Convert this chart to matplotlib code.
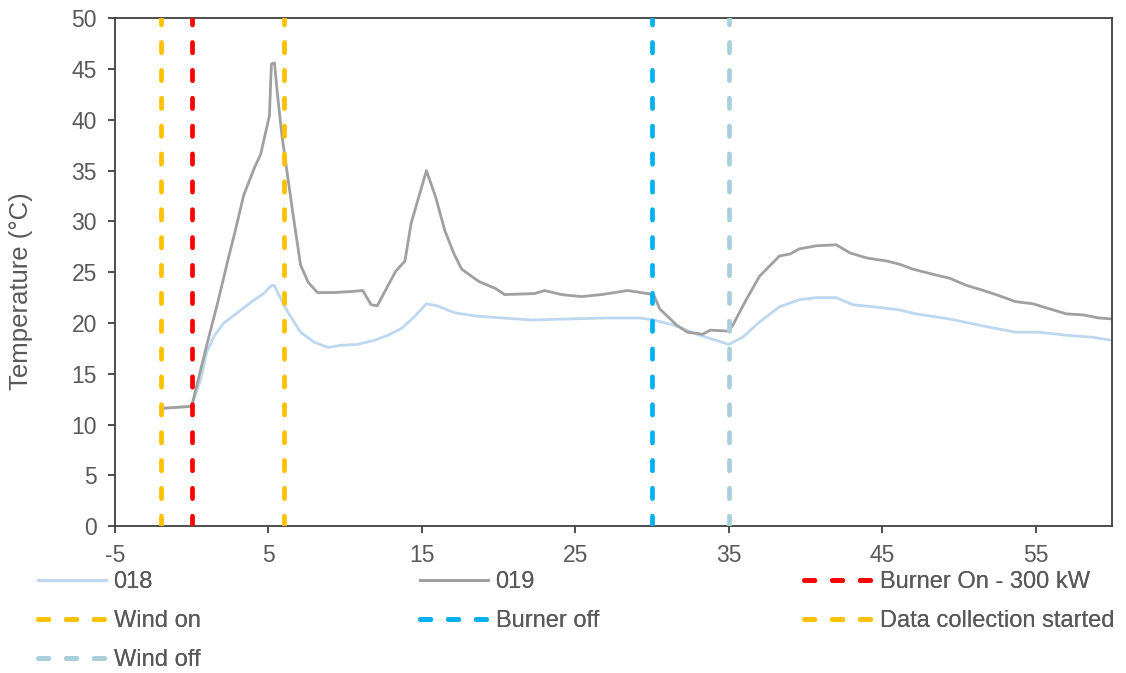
import matplotlib.pyplot as plt

plt.rcParams['font.family'] = ['Liberation Sans', 'DejaVu Sans']
plt.rcParams['axes.unicode_minus'] = False

# run 018 (light blue) - time in minutes, temperature in degC
t_018 = [-2, 0, 0.6, 1.0, 1.5, 2.1, 2.8, 3.4, 4.1, 4.7, 5.2, 5.4, 5.7, 6.3, 7.1, 8.0, 8.9,
         9.7, 10.8, 11.9, 12.8, 13.7, 14.5, 15.3, 16.0, 16.8, 17.2, 18.5, 20.2, 22.1, 24.5,
         27.1, 29.2, 30.1, 31.4, 33.1, 35.0, 35.9, 37.0, 38.3, 39.6, 40.7, 42.0, 43.1, 44.4,
         46.1, 47.2, 49.4, 51.6, 53.7, 55.2, 57.0, 58.7, 60.0]
temp_018 = [11.6, 11.8, 14.5, 17.2, 18.8, 20.0, 20.8, 21.5, 22.3, 22.9, 23.7, 23.7, 22.7, 21.0,
            19.1, 18.1, 17.6, 17.8, 17.9, 18.3, 18.8, 19.5, 20.6, 21.9, 21.7, 21.2, 21.0, 20.7,
            20.5, 20.3, 20.4, 20.5, 20.5, 20.3, 19.8, 18.8, 17.9, 18.6, 20.1, 21.6, 22.3, 22.5,
            22.5, 21.8, 21.6, 21.3, 20.9, 20.4, 19.7, 19.1, 19.1, 18.8, 18.6, 18.3]

# run 019 (grey)
t_019 = [-2, 0, 1.0, 1.7, 2.35, 2.8, 3.4, 4.1, 4.5, 5.07, 5.2, 5.4, 5.6, 5.9, 6.15, 6.6, 7.1,
         7.6, 8.2, 9.3, 10.4, 11.15, 11.7, 12.1, 12.8, 13.3, 13.9, 14.3, 14.8, 15.3, 15.9,
         16.5, 17.1, 17.6, 18.7, 19.8, 20.4, 22.35, 23.0, 24.1, 25.4, 26.7, 28.4, 29.7, 30.1,
         30.5, 31.6, 32.3, 33.3, 33.8, 35.0, 35.3, 36.1, 37.0, 38.3, 39.0, 39.6, 40.7, 42.0,
         42.9, 44.0, 45.3, 46.1, 47.0, 48.3, 49.4, 50.5, 51.6, 52.6, 53.7, 54.8, 55.9, 57.0,
         58.1, 59.1, 60.0]
temp_019 = [11.6, 11.8, 17.9, 22.0, 26.1, 28.8, 32.6, 35.3, 36.6, 40.4, 45.5, 45.6, 42.4, 38.3,
            35.6, 30.8, 25.7, 24.0, 23.0, 23.0, 23.1, 23.2, 21.8, 21.7, 23.7, 25.1, 26.1, 29.8,
            32.4, 35.0, 32.4, 29.1, 26.8, 25.3, 24.1, 23.4, 22.8, 22.9, 23.2, 22.8, 22.6, 22.8,
            23.2, 22.9, 22.8, 21.4, 19.8, 19.1, 18.9, 19.3, 19.2, 19.9, 22.2, 24.6, 26.6, 26.8,
            27.3, 27.6, 27.7, 26.9, 26.4, 26.1, 25.8, 25.3, 24.8, 24.4, 23.7, 23.2, 22.7, 22.1,
            21.9, 21.4, 20.9, 20.8, 20.5, 20.4]

# event markers (minutes)
events = ['Burner On - 300 kW', 'Wind on', 'Burner off', 'Data collection started', 'Wind off']
event_times = [0, -2, 30, 6, 35]
event_colors = ['#FF0000', '#FFC000', '#00B0F0', '#FFC000', '#A9CFDB']

text_color = '#595959'
W, H = 1126, 673

fig = plt.figure(figsize=(W / 100, H / 100), dpi=100)
ax = fig.add_axes([0.102, 0.218, 0.886, 0.755])

h018, = ax.plot(t_018, temp_018, color='#BDD7EE', lw=2.0, label='018')
h019, = ax.plot(t_019, temp_019, color='#A0A0A0', lw=2.0, label='019')

ev = {}
for name, t, c in zip(events, event_times, event_colors):
    h, = ax.plot([t, t], [0, 50], color=c, lw=3.4, dashes=(2.2, 3.7),
                 dash_capstyle='round', label=name, zorder=3)
    ev[name] = h

ax.set_xlim(-5, 60)
ax.set_ylim(0, 50)
ax.set_xticks(range(-5, 60, 10))
ax.set_yticks(range(0, 51, 5))
ax.set_ylabel('Temperature (°C)', fontsize=18.5, color=text_color)
ax.yaxis.set_label_coords(-0.082, 0.463)

for side in ['left', 'bottom', 'top', 'right']:
    ax.spines[side].set_color('#404040')
    ax.spines[side].set_linewidth(1.3)
ax.tick_params(direction='out', length=5, width=1.3, colors='#404040',
               labelcolor=text_color, labelsize=16.5)
ax.tick_params(axis='x', pad=8)
ax.tick_params(axis='y', pad=8)

# legend as three fixed columns under the axes
columns = [
    (38, [h018, ev['Wind on'], ev['Wind off']]),
    (420, [h019, ev['Burner off']]),
    (804, [ev['Burner On - 300 kW'], ev['Data collection started']]),
]
for x0, handles in columns:
    leg = fig.legend(handles=handles, labels=[h.get_label() for h in handles],
                     loc='upper left', bbox_to_anchor=(x0 / W, 1 - 571 / H),
                     frameon=False, fontsize=17, labelcolor=text_color,
                     handlelength=2.9, handletextpad=0.3, labelspacing=0.72,
                     borderpad=0, borderaxespad=0)
    fig.add_artist(leg)

fig.savefig('out.png', dpi=100)
